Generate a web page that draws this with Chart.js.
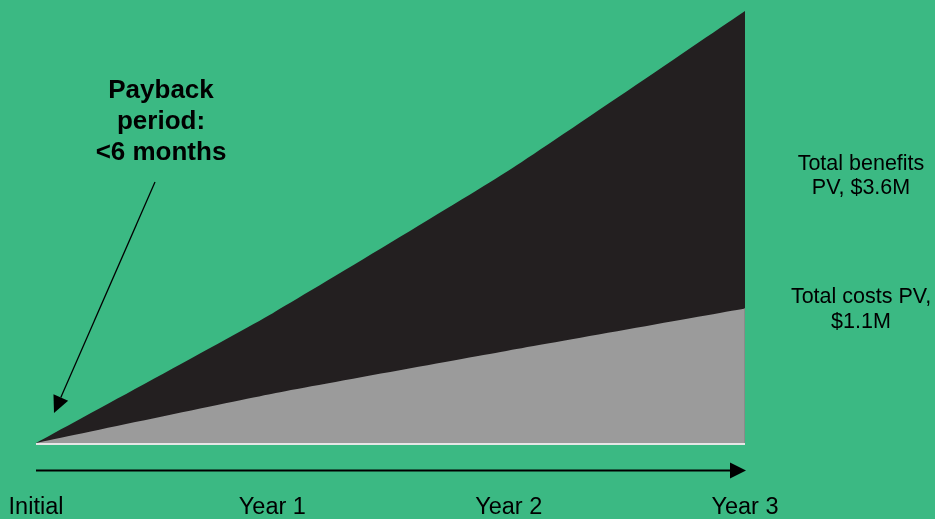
<!DOCTYPE html>
<html>
<head>
<meta charset="utf-8">
<script src="https://cdn.jsdelivr.net/npm/chart.js@4"></script>
<style>
  html, body { margin: 0; padding: 0; background: #3bb983; overflow: hidden; }
  #wrap { width: 935px; height: 519px; }
  canvas { display: block; }
</style>
</head>
<body>
<div id="wrap"><canvas id="c" width="935" height="519"></canvas></div>
<script>
// ---- data (values in $M, present value, cumulative) ----
const categories = ["Initial", "Year 1", "Year 2", "Year 3"];
const totalBenefits = [0, 1.08, 2.27, 3.6];
const totalCosts = [0, 0.41, 0.77, 1.12];
const benefitsLabel = ["Total benefits", "PV, $3.6M"];
const costsLabel = ["Total costs PV,", "$1.1M"];
const paybackLabel = ["Payback", "period:", "<6 months"];

const FONT = '"Liberation Sans", Arial, Helvetica, sans-serif';

const decor = {
  id: 'decor',
  afterDatasetsDraw(chart) {
    const ctx = chart.ctx;
    const xs = chart.scales.x, ys = chart.scales.y;
    const left = xs.getPixelForValue(0);
    const right = xs.getPixelForValue(categories.length - 1);
    const base = ys.getPixelForValue(0);
    ctx.save();
    // right edge of area
    ctx.strokeStyle = '#8a8a8a';
    ctx.lineWidth = 1;
    ctx.beginPath();
    ctx.moveTo(right - 0.5, ys.getPixelForValue(totalCosts[totalCosts.length - 1]));
    ctx.lineTo(right - 0.5, base);
    ctx.stroke();
    // baseline
    ctx.strokeStyle = '#e6e6e6';
    ctx.lineWidth = 2;
    ctx.beginPath();
    ctx.moveTo(left, base + 1);
    ctx.lineTo(right, base + 1);
    ctx.stroke();
    // time arrow
    const ay = base + 27.5;
    ctx.strokeStyle = '#000';
    ctx.lineWidth = 2;
    ctx.beginPath();
    ctx.moveTo(left, ay);
    ctx.lineTo(right - 14, ay);
    ctx.stroke();
    ctx.fillStyle = '#000';
    ctx.beginPath();
    ctx.moveTo(right - 15, ay - 8);
    ctx.lineTo(right + 1, ay);
    ctx.lineTo(right - 15, ay + 8);
    ctx.closePath();
    ctx.fill();
    // category labels
    ctx.font = '23.5px ' + FONT;
    ctx.textAlign = 'center';
    ctx.textBaseline = 'alphabetic';
    categories.forEach((c, i) => {
      ctx.fillText(c, xs.getPixelForValue(i), 514);
    });
    // right labels
    ctx.font = '21.5px ' + FONT;
    const rx = right + 116;
    ctx.fillText(benefitsLabel[0], rx, 170);
    ctx.fillText(benefitsLabel[1], rx, 194);
    ctx.fillText(costsLabel[0], rx, 303);
    ctx.fillText(costsLabel[1], rx, 328);
    // payback annotation
    ctx.font = 'bold 26px ' + FONT;
    const px = 161;
    ctx.fillText(paybackLabel[0], px, 98);
    ctx.fillText(paybackLabel[1], px, 129);
    ctx.fillText(paybackLabel[2], px, 160);
    // payback arrow
    const sx = 155, sy = 182, tx = 54, ty = 413;
    const ang = Math.atan2(ty - sy, tx - sx);
    const hl = 17, hw = 8;
    const bx = tx - hl * Math.cos(ang), by = ty - hl * Math.sin(ang);
    ctx.strokeStyle = '#000';
    ctx.lineWidth = 1.3;
    ctx.beginPath();
    ctx.moveTo(sx, sy);
    ctx.lineTo(bx, by);
    ctx.stroke();
    ctx.beginPath();
    ctx.moveTo(tx, ty);
    ctx.lineTo(bx + hw * Math.sin(ang), by - hw * Math.cos(ang));
    ctx.lineTo(bx - hw * Math.sin(ang), by + hw * Math.cos(ang));
    ctx.closePath();
    ctx.fill();
    ctx.restore();
  }
};

new Chart(document.getElementById('c'), {
  type: 'line',
  data: {
    labels: categories,
    datasets: [
      {
        label: 'Total costs PV',
        data: totalCosts,
        fill: 'origin',
        backgroundColor: '#9b9b9b',
        borderColor: '#9b9b9b',
        borderWidth: 0,
        pointRadius: 0,
        tension: 0.15
      },
      {
        label: 'Total benefits PV',
        data: totalBenefits,
        fill: 'origin',
        backgroundColor: '#231f20',
        borderColor: '#231f20',
        borderWidth: 0,
        pointRadius: 0,
        tension: 0.15
      }
    ]
  },
  options: {
    responsive: false,
    animation: false,
    events: [],
    layout: { padding: { left: 36, right: 190, top: 11, bottom: 76 } },
    plugins: { legend: { display: false }, tooltip: { enabled: false } },
    scales: {
      x: { display: false, offset: false },
      y: { display: false, min: 0, max: 3.6 }
    }
  },
  plugins: [decor]
});
</script>
</body>
</html>
